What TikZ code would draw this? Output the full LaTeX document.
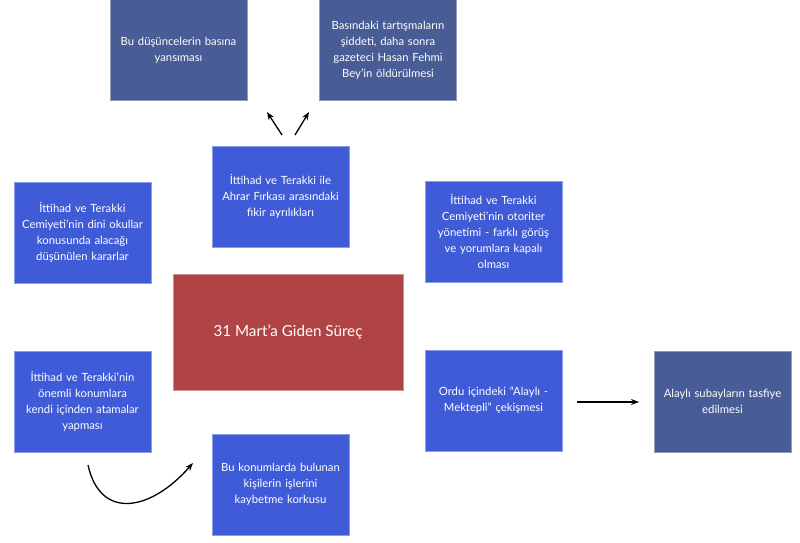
\documentclass[tikz,border=0pt]{standalone}
\usepackage{fontspec}
\setmainfont{Lato}
\usetikzlibrary{positioning,arrows.meta}
\definecolor{causeblue}{RGB}{63,91,216}
\definecolor{resultblue}{RGB}{72,92,150}
\definecolor{corered}{RGB}{176,68,68}
\begin{document}
\begin{tikzpicture}[x=1pt,y=-1pt,
                       cause node/.style={rectangle,fill=causeblue,draw=causeblue!60!white,
                                          text=white,minimum width=137pt,minimum height=101pt,
                                          text width=131pt,align=center,inner sep=0pt,
                                          font=\fontsize{11.3}{16}\selectfont},
                       result node/.style={cause node,fill=resultblue,draw=resultblue!60!white},
                       core node/.style={rectangle,fill=corered,draw=corered!60!white,
                                         text=white,minimum width=230pt,minimum height=116pt,
                                         font=\fontsize{15.2}{18}\selectfont},
                       arrow/.style={-{Stealth[length=8pt,width=6pt]},line width=1.3pt}
                      ]
   \useasboundingbox (0,0) rectangle (800,543);
   \node[result node] (press) at (178.5,50) {Bu düşüncelerin basına\\yansıması};
   \node[result node] (murder) at (388,50) {Basındaki tartışmaların\\şiddeti, daha sonra\\gazeteci Hasan Fehmi\\Bey’in öldürülmesi};
   \node[cause node] (ahrar) at (280.5,196.5) {İttihad ve Terakki ile\\Ahrar Fırkası arasındaki\\fikir ayrılıkları};
   \node[cause node] (schools) at (82.5,232.5) {İttihad ve Terakki\\Cemiyeti’nin dini okullar\\konusunda alacağı\\düşünülen kararlar};
   \node[cause node] (autocracy) at (493.5,231.5) {İttihad ve Terakki\\Cemiyeti’nin otoriter\\yönetimi - farklı görüş\\ve yorumlara kapalı\\olması};
   \node[core node] (core) at (288,332) {31 Mart’a Giden Süreç};
   \node[cause node] (posts) at (82.5,401.5) {İttihad ve Terakki’nin\\önemli konumlara\\kendi içinden atamalar\\yapması};
   \node[cause node] (army) at (493.5,400.5) {Ordu içindeki “Alaylı -\\Mektepli” çekişmesi};
   \node[result node] (purge) at (722.5,401.5) {Alaylı subayların tasfiye\\edilmesi};
   \node[cause node] (fear) at (280.5,484.5) {Bu konumlarda bulunan\\kişilerin işlerini\\kaybetme korkusu};
   \coordinate (a1) at (282,135);
   \coordinate (b1) at (267,112);
   \coordinate (a2) at (295,135);
   \coordinate (b2) at (309,112);
   \coordinate (a3) at (577,402);
   \coordinate (b3) at (639,402);
   \coordinate (a4) at (88,465);
   \coordinate (b4) at (193,463);
   \draw[arrow] (a1) -- (b1);
   \draw[arrow] (a2) -- (b2);
   \draw[arrow] (a3) -- (b3);
   \draw[arrow] (a4) .. controls (100,520) and (150,512) .. (b4);
  \end{tikzpicture}
\end{document}
